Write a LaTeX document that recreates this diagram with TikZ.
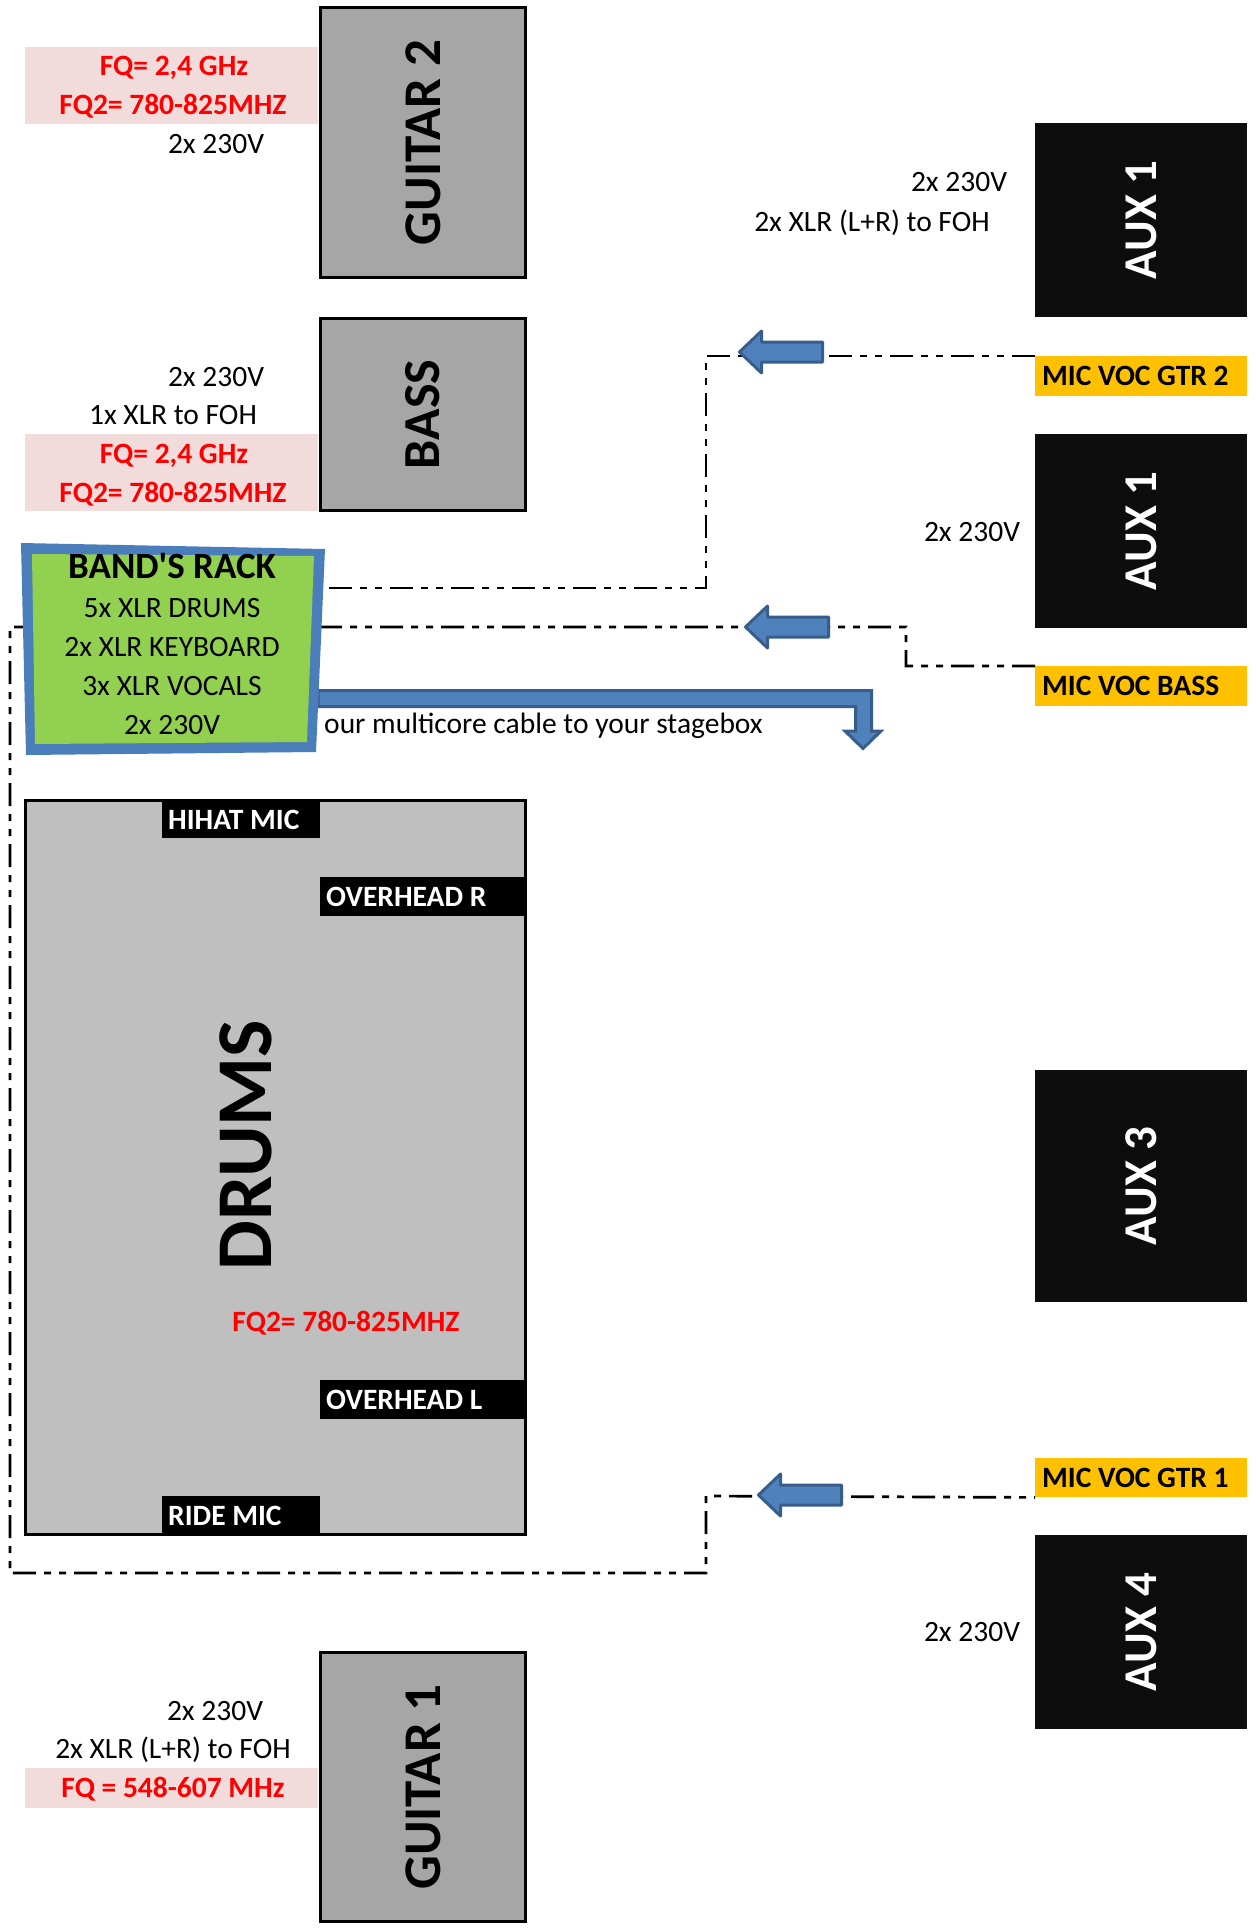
\documentclass[tikz,border=0pt]{standalone}
\usepackage{fontspec}
\setmainfont{Carlito}[Ligatures=TeXOff]
\usetikzlibrary{calc}
\definecolor{pinkbg}{HTML}{F2DCDB}
\definecolor{gtrgray}{HTML}{A6A6A6}
\definecolor{drumgray}{HTML}{BFBFBF}
\definecolor{auxblack}{HTML}{0D0D0D}
\definecolor{micyellow}{HTML}{FFC000}
\definecolor{rackgreen}{HTML}{92D050}
\definecolor{rackblue}{HTML}{4A7EBB}
\definecolor{arrowblue}{HTML}{4F81BD}
\definecolor{arrowdark}{HTML}{385D8A}
\definecolor{fqred}{HTML}{FF0000}
\begin{document}
\begin{tikzpicture}[x=1pt,y=-1pt,
  txt/.style={inner sep=0pt, anchor=base, font=\fontsize{29.5}{35}\selectfont},
  fqtxt/.style={inner sep=0pt, anchor=base, text=fqred, font=\fontsize{29.5}{35}\selectfont\bfseries},
  instbox/.style={draw=black, line width=3pt, fill=gtrgray, rotate=90, inner sep=0pt, font=\fontsize{53}{60}\selectfont\bfseries},
  auxbox/.style={fill=auxblack, text=white, rotate=90, inner sep=0pt, minimum height=212pt, font=\fontsize{47}{50}\selectfont\bfseries},
  pinkbox/.style={fill=pinkbg, inner sep=0pt, anchor=north west, minimum width=293pt},
  miclbl/.style={fill=micyellow, anchor=north west, inner xsep=7pt, inner ysep=0pt, minimum height=40pt, font=\fontsize{29.5}{35}\selectfont\bfseries},
  drumlbl/.style={fill=black, text=white, anchor=north west, inner xsep=6pt, inner ysep=0pt, font=\fontsize{29.5}{35}\selectfont\bfseries},
  cable/.style={line width=2.7pt, dash pattern=on 23pt off 8pt on 7pt off 8pt on 7pt off 8pt},
  flowarrow/.style={fill=arrowblue, draw=arrowdark, line width=3pt, line join=round},
  larrow/.pic={\path[flowarrow] (0,0) -- (22,-21) -- (22,-10) -- (83,-10) -- (83,10) -- (22,10) -- (22,21) -- cycle;}
]
\useasboundingbox (0,0) rectangle (1255,1932);
\fill[white] (0,0) rectangle (1255,1932);

% ---------- GUITAR 2 ----------
\node[pinkbox, minimum height=77pt] (pk2) at (25,47) {};
\node[fqtxt] (g2fq) at (174,75.5) {FQ= 2,4 GHz};
\node[fqtxt] (g2fq2) at (173,114.5) {FQ2= 780-825MHZ};
\node[txt] (g2pw) at (216,153.5) {2x 230V};
\node[instbox, minimum width=270pt, minimum height=205pt] (gtr2) at (423,142.5) {GUITAR 2};

% ---------- BASS ----------
\node[txt] (bpw) at (216,386.5) {2x 230V};
\node[txt] (bxlr) at (173,424.5) {1x XLR to FOH};
\node[pinkbox, minimum height=77pt] (pkb) at (25,434) {};
\node[fqtxt] (bfq) at (174,463.5) {FQ= 2,4 GHz};
\node[fqtxt] (bfq2) at (173,502.5) {FQ2= 780-825MHZ};
\node[instbox, minimum width=192pt, minimum height=205pt, font=\fontsize{52}{60}\selectfont\bfseries] (bass) at (423,414.5) {BASS};

% ---------- DRUMS ----------
\node[draw=black, line width=3pt, fill=drumgray, minimum width=500pt, minimum height=734pt, inner sep=0pt] (drums) at (275.5,1167.5) {};
\node[rotate=90, inner sep=0pt, font=\fontsize{79}{80}\selectfont\bfseries] (drumtxt) at (246,1145) {DRUMS};
\node[fqtxt] (dfq2) at (346,1331.5) {FQ2= 780-825MHZ};
\node[drumlbl, minimum height=37pt] (hihat) at (162,801) {\makebox[146pt][l]{HIHAT MIC}};
\node[drumlbl, minimum height=39pt] (ohr) at (320,877) {\makebox[192pt][l]{OVERHEAD R}};
\node[drumlbl, minimum height=39pt] (ohl) at (320,1380) {\makebox[192pt][l]{OVERHEAD L}};
\node[drumlbl, minimum height=39pt] (ride) at (162,1496) {\makebox[146pt][l]{RIDE MIC}};

% ---------- GUITAR 1 ----------
\node[txt] (g1pw) at (215,1720.5) {2x 230V};
\node[txt] (g1xlr) at (173,1758.5) {2x XLR (L+R) to FOH};
\node[pinkbox, minimum height=40pt] (pk1) at (25,1768) {};
\node[fqtxt] (g1fq) at (173,1797.5) {FQ = 548-607 MHz};
\node[instbox, minimum width=269pt, minimum height=205pt] (gtr1) at (423,1787) {GUITAR 1};

% ---------- AUX ----------
\node[auxbox, minimum width=194pt] (auxa) at (1141,220) {AUX 1};
\node[txt] (aapw) at (959,191.5) {2x 230V};
\node[txt] (aaxlr) at (872,231.5) {2x XLR (L+R) to FOH};
\node[auxbox, minimum width=194pt] (auxb) at (1141,531) {AUX 1};
\node[txt] (abpw) at (972,541.5) {2x 230V};
\node[auxbox, minimum width=232pt] (auxc) at (1141,1186) {AUX 3};
\node[auxbox, minimum width=194pt] (auxd) at (1141,1632) {AUX 4};
\node[txt] (adpw) at (972,1641.5) {2x 230V};

% ---------- MIC labels ----------
\node[miclbl] (mgtr2) at (1035,356) {\makebox[198pt][l]{MIC VOC GTR 2}};
\node[miclbl] (mbass) at (1035,666) {\makebox[198pt][l]{MIC VOC BASS}};
\node[miclbl, minimum height=39pt] (mgtr1) at (1035,1458) {\makebox[198pt][l]{MIC VOC GTR 1}};

% ---------- cables ----------
\coordinate (k1) at (706,588);
\coordinate (r1) at (318,588);
\coordinate (k2) at (906,627);
\coordinate (k3) at (10,627);
\coordinate (k4) at (10,1573);
\coordinate (k5) at (706,1496);
\draw[cable] (mgtr2.north west) -| (k1) -- (r1);
\draw[cable] (mbass.north west) -| (k2) -- (k3) -- (k4) -| (k5) -- (mgtr1.south west);

% ---------- multicore arrow ----------
\path[flowarrow, line join=miter] (318,690.5) -- (871.5,690.5) -- (871.5,731) -- (881,731) -- (863,748.5) -- (845,731) -- (855.5,731) -- (855.5,706.5) -- (318,706.5) -- cycle;
\node[txt, anchor=base west] (mctxt) at (324,733.5) {our multicore cable to your stagebox};

% ---------- BAND'S RACK ----------
\fill[rackblue] (21,543) -- (325,549) -- (316,752) -- (26,755) -- cycle;
\fill[rackgreen] (32,554) -- (314,556) -- (307,742) -- (35,744) -- cycle;
\node[inner sep=0pt, align=center, font=\fontsize{29.5}{38.8}\selectfont] (rack) at (172,644)
  {{\fontsize{37}{38.8}\selectfont\bfseries BAND'S RACK}\\5x XLR DRUMS\\2x XLR KEYBOARD\\3x XLR VOCALS\\2x 230V};

% ---------- signal arrows ----------
\pic at (739.5,352) {larrow};
\pic at (745.5,627) {larrow};
\pic at (758.5,1495) {larrow};
\end{tikzpicture}
\end{document}
